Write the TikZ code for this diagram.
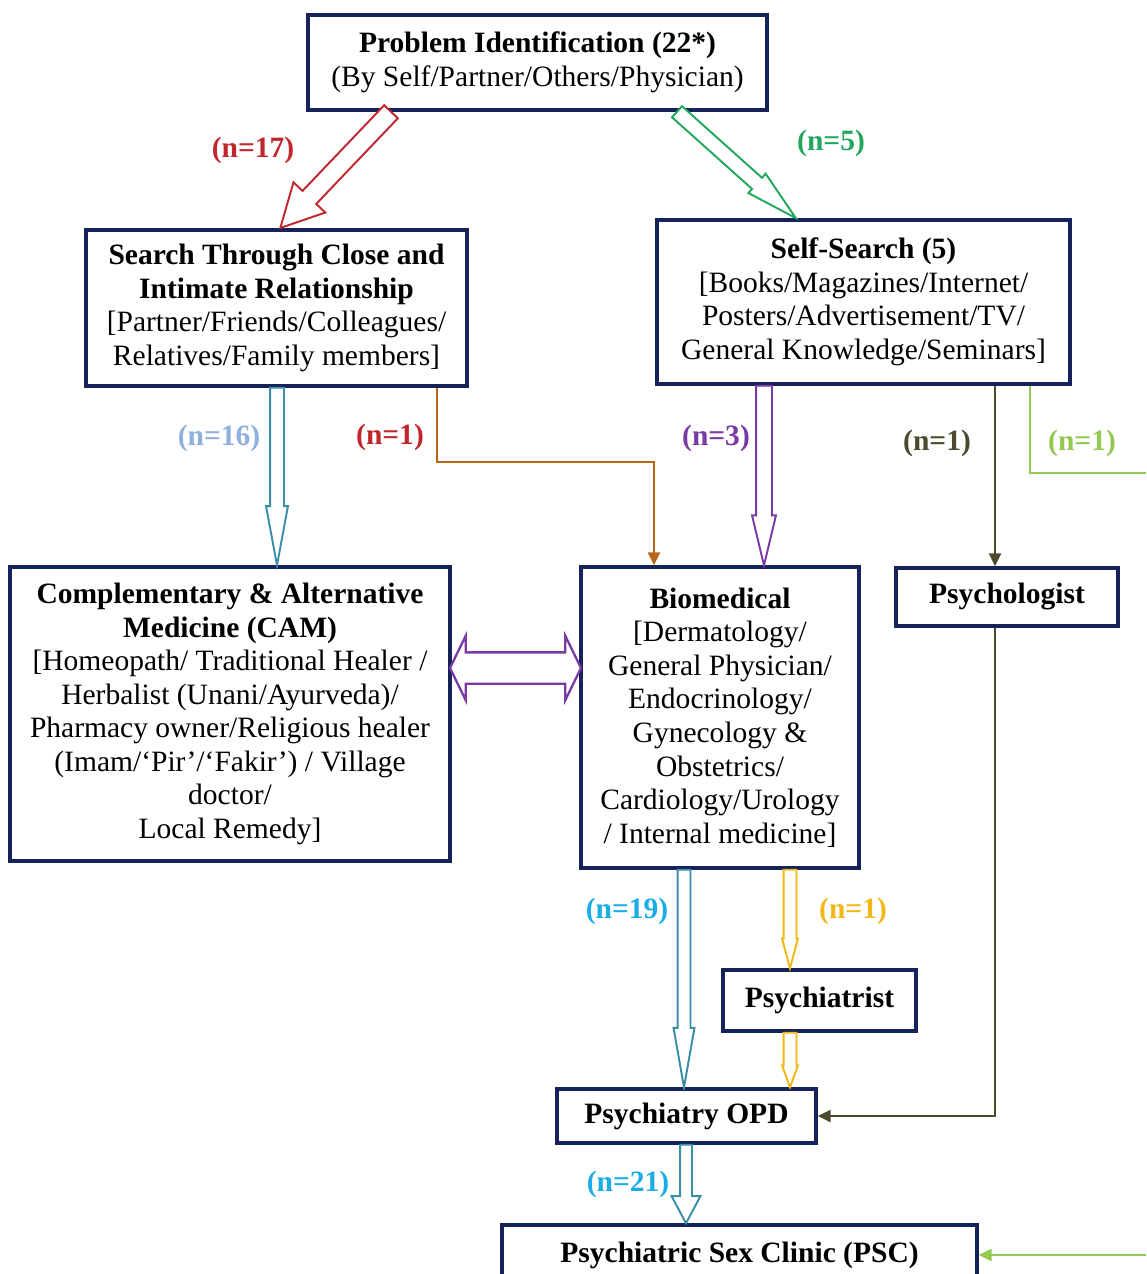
\documentclass[tikz,border=0pt]{standalone}
\usepackage{fontspec}
\setmainfont{Liberation Serif}
\usetikzlibrary{arrows.meta,shapes.arrows,calc}

\definecolor{boxblue}{HTML}{16225A}
\definecolor{pathred}{HTML}{C0272D}
\definecolor{pathgreen}{HTML}{22A85E}
\definecolor{pathteal}{HTML}{3A8EA5}
\definecolor{pathsky}{HTML}{8FB0DC}
\definecolor{pathpurple}{HTML}{7A3AA5}
\definecolor{pathbrown}{HTML}{B8651B}
\definecolor{patholive}{HTML}{4B4A2C}
\definecolor{pathlime}{HTML}{93C94F}
\definecolor{pathblue}{HTML}{1BADE6}
\definecolor{pathgold}{HTML}{F2B818}

\tikzstyle{box}=[draw=boxblue, line width=2pt, fill=white, align=center, inner sep=0pt,
  font=\fontsize{16.8}{19.1}\selectfont]
\tikzstyle{count}=[font=\bfseries\fontsize{16.8}{19.1}\selectfont]
\tikzstyle{fat}=[single arrow, draw, fill=white, line width=1.1pt, inner xsep=0pt,
  outer sep=0pt, minimum width=0pt]
\tikzstyle{twin}=[double arrow, draw=pathpurple, fill=white, line width=1.3pt, inner xsep=0pt,
  inner ysep=0.29cm, double arrow head extend=0.33cm, double arrow tip angle=128,
  outer sep=0pt, minimum width=0pt]
\tikzstyle{thin}=[line width=1.4pt, -{Triangle[length=0.26cm,width=0.24cm]}]

\newcommand{\fatarrow}[3]{%
  \path let \p1=#2, \p2=#3, \n1={veclen(\x2-\x1,\y2-\y1)} in
    (\p1) -- node[fat, #1, minimum height=\n1, pos=0, anchor=tail, sloped, allow upside down] {} (\p2);}

\begin{document}
\begin{tikzpicture}[x=0.02cm, y=-0.02cm]

\useasboundingbox (0,0) rectangle (1146,1274);
\clip (0,0) rectangle (1146,1274);

\node [box, minimum width=9.18cm, minimum height=1.9cm] (prob) at (537.5,62.5)
  {\textbf{Problem Identification (22*)}\\ (By Self/Partner/Others/Physician)};
\node [box, minimum width=7.62cm, minimum height=3.12cm] (close) at (276.5,308)
  {\textbf{Search Through Close and}\\ \textbf{Intimate Relationship}\\{}[Partner/Friends/Colleagues/\\ Relatives/Family members]};
\node [box, minimum width=8.26cm, minimum height=3.28cm] (self) at (863.5,302)
  {\textbf{Self-Search (5)}\\{}[Books/Magazines/Internet/\\ Posters/Advertisement/TV/\\ General Knowledge/Seminars]};
\node [box, minimum width=8.8cm, minimum height=5.88cm] (cam) at (230,714)
  {\textbf{Complementary \& Alternative}\\ \textbf{Medicine (CAM)}\\{}[Homeopath/ Traditional Healer /\\ Herbalist (Unani/Ayurveda)/\\ Pharmacy owner/Religious healer\\ (Imam/‘Pir’/‘Fakir’) / Village\\ doctor/\\ Local Remedy]};
\node [box, minimum width=5.56cm, minimum height=6.02cm] (bio) at (720,717.5)
  {\textbf{Biomedical}\\{}[Dermatology/\\ General Physician/\\ Endocrinology/\\ Gynecology \&\\ Obstetrics/\\ Cardiology/Urology\\ / Internal medicine]};
\node [box, minimum width=4.44cm, minimum height=1.16cm] (psychol) at (1007,597) {\textbf{Psychologist}};
\node [box, minimum width=3.86cm, minimum height=1.22cm] (psychtr) at (819.5,1000.5) {\textbf{Psychiatrist}};
\node [box, minimum width=5.18cm, minimum height=1.08cm] (opd) at (686.5,1116) {\textbf{Psychiatry OPD}};
\node [box, minimum width=9.5cm, minimum height=1.2cm] (psc) at (739.5,1255) {\textbf{Psychiatric Sex Clinic (PSC)}};

\fatarrow{draw=pathred, inner ysep=0.17cm, single arrow head extend=0.25cm, single arrow tip angle=55}{(prob.south -| 391,0)}{(close.north -| 280,0)}
\fatarrow{draw=pathgreen, inner ysep=0.13cm, single arrow head extend=0.11cm, single arrow tip angle=28}{(prob.south -| 677,0)}{(self.north -| 796,0)}
\fatarrow{draw=pathteal, inner ysep=0.12cm, single arrow head extend=0.08cm, single arrow tip angle=21}{(close.south -| 277,0)}{(cam.north -| 277,0)}
\fatarrow{draw=pathpurple, inner ysep=0.14cm, single arrow head extend=0.08cm, single arrow tip angle=27}{(self.south -| 764,0)}{(bio.north -| 764,0)}
\fatarrow{draw=pathteal, inner ysep=0.11cm, single arrow head extend=0.08cm, single arrow tip angle=20}{(bio.south -| 684,0)}{(opd.north -| 684,0)}
\fatarrow{draw=pathgold, inner ysep=0.11cm, single arrow head extend=0.03cm, single arrow tip angle=30}{(bio.south -| 790,0)}{(psychtr.north -| 790,0)}
\fatarrow{draw=pathgold, inner ysep=0.11cm, single arrow head extend=0.03cm, single arrow tip angle=40}{(psychtr.south -| 790,0)}{(opd.north -| 790,0)}
\fatarrow{draw=pathteal, inner ysep=0.1cm, single arrow head extend=0.17cm, single arrow tip angle=56}{(opd.south -| 686,0)}{(psc.north -| 686,0)}

\path (cam.east |- 0,668) -- node [twin, midway, minimum height=2.62cm] {} (bio.west |- 0,668);

\draw [thin, pathbrown] (close.south -| 437,0) -- (437,462) -| (bio.north -| 654,0);
\draw [thin, patholive] (self.south -| 995,0) -- (psychol.north -| 995,0);
\draw [thin, patholive] (psychol.south -| 995,0) |- (opd.east);
\draw [thin, pathlime] (self.south -| 1030,0) |- (1160,473) |- (psc.east);

\node [count, pathred] (n17) at (253,150) {(n=17)};
\node [count, pathgreen] (n5) at (831,143) {(n=5)};
\node [count, pathsky] (n16) at (219,438) {(n=16)};
\node [count, pathred] (n1a) at (390,437) {(n=1)};
\node [count, pathpurple] (n3) at (716,438) {(n=3)};
\node [count, patholive] (n1b) at (937,443) {(n=1)};
\node [count, pathlime] (n1c) at (1082,443) {(n=1)};
\node [count, pathblue] (n19) at (627,911) {(n=19)};
\node [count, pathgold] (n1d) at (853,911) {(n=1)};
\node [count, pathblue] (n21) at (628,1184) {(n=21)};

\end{tikzpicture}
\end{document}
